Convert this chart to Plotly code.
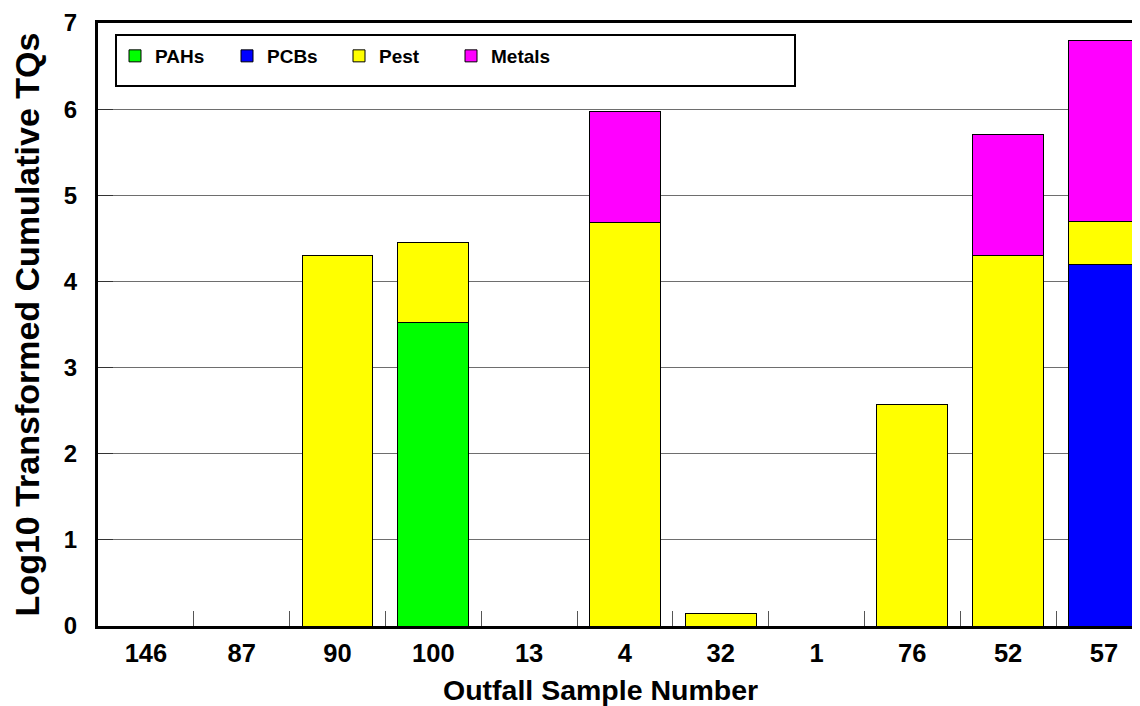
'''
stacked bars of log10 cumulative TQs per outfall sample
'''
import plotly.graph_objects as go

samples = ["146", "87", "90", "100", "13", "4", "32", "1", "76", "52", "57"]
pahs = [0, 0, 0, 3.52, 0, 0, 0, 0, 0, 0, 0]
pcbs = [0, 0, 0, 0, 0, 0, 0, 0, 0, 0, 4.20]
pest = [0, 0, 4.30, 0.93, 0, 4.68, 0.14, 0, 2.57, 4.30, 0.49]
metals = [0, 0, 0, 0, 0, 1.29, 0, 0, 0, 1.40, 2.11]
y_ticks = [0, 1, 2, 3, 4, 5, 6, 7]

series = [("PAHs", pahs, "#00ff00"), ("PCBs", pcbs, "#0000ff"),
          ("Pest", pest, "#ffff00"), ("Metals", metals, "#ff00ff")]

FONT = "Arial, 'Liberation Sans', sans-serif"

fig = go.Figure()
for name, values, colour in series:
    fig.add_trace(go.Bar(x=samples, y=values, name=name, width=0.74,
                         marker=dict(color=colour, line=dict(color="black", width=1))))

# legend frame (wider than plotly's own legend box)
fig.add_shape(type="rect", xref="paper", yref="paper",
              x0=(116 - 98) / 1042, x1=(795 - 98) / 1042,
              y0=(626 - 86) / 603, y1=(626 - 35) / 603,
              line=dict(color="black", width=2), fillcolor="white", layer="above")

# x title as annotation: in the original it sits left of the plot centre
fig.add_annotation(text="Outfall Sample Number", xref="paper", yref="paper",
                   x=(600 - 98) / 1042, y=(626 - 690) / 603,
                   xanchor="center", yanchor="middle", showarrow=False,
                   font=dict(size=28.5, weight="bold"))

# page body has an 8px margin, so the figure is a bit smaller than the window
fig.update_layout(
    width=1132, height=698,
    margin=dict(l=90, r=0, t=15, b=80),
    barmode="stack",
    plot_bgcolor="white", paper_bgcolor="white",
    font=dict(family=FONT, color="black"),
    legend=dict(orientation="h", x=(115 - 98) / 1042, y=(626 - 56) / 603,
                xanchor="left", yanchor="middle", bgcolor="rgba(0,0,0,0)",
                font=dict(size=19, weight="bold"), entrywidth=67,
                traceorder="normal"),
    xaxis=dict(type="category", range=[-0.5, -0.5 + 1042 / 95.8],
               automargin=False,
               showline=True, linecolor="black", linewidth=3, mirror=True,
               tickson="boundaries", ticks="inside", ticklen=15,
               tickcolor="#555555", tickwidth=1, showgrid=False,
               tickfont=dict(size=25.5, weight="bold"), ticklabelstandoff=2),
    yaxis=dict(range=[0, 7], tickvals=y_ticks, showline=True,
               automargin=False,
               linecolor="black", linewidth=3, ticks="inside", ticklen=15,
               tickcolor="#333333", tickwidth=1, showgrid=True,
               gridcolor="#6e6e6e", gridwidth=1, zeroline=False,
               tickfont=dict(size=24, weight="bold"), ticklabelstandoff=13,
               title=dict(text="Log10 Transformed Cumulative TQs",
                          font=dict(size=34, weight="bold"), standoff=19)),
)

fig.write_html("out.html")
